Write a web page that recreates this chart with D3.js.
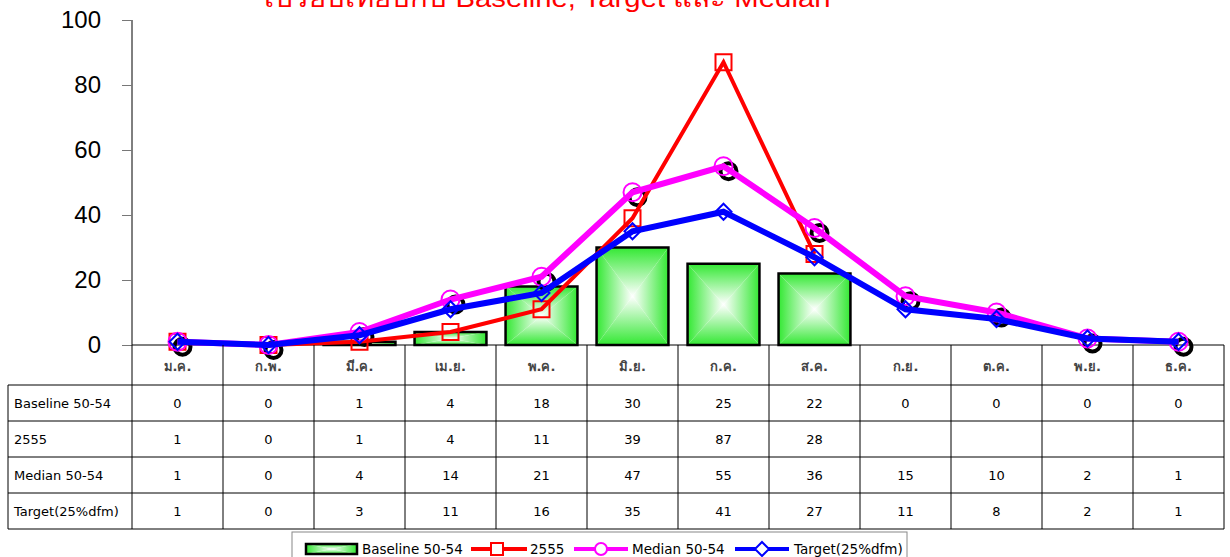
<!DOCTYPE html>
<html>
<head>
<meta charset="utf-8">
<script src="https://cdn.jsdelivr.net/npm/d3@7"></script>
<style>
  body { margin: 0; background: #fff; }
  svg text { font-family: Tahoma, "DejaVu Sans", "Noto Sans", sans-serif; }
</style>
</head>
<body>
<svg id="chart" width="1230" height="557"></svg>
<script>
const months = ['ม.ค.', 'ก.พ.', 'มี.ค.', 'เม.ย.', 'พ.ค.', 'มิ.ย.', 'ก.ค.', 'ส.ค.', 'ก.ย.', 'ต.ค.', 'พ.ย.', 'ธ.ค.'];
const baseline = [0, 0, 1, 4, 18, 30, 25, 22, 0, 0, 0, 0];
const cases2555 = [1, 0, 1, 4, 11, 39, 87, 28];
const median = [1, 0, 4, 14, 21, 47, 55, 36, 15, 10, 2, 1];
const target = [1, 0, 3, 11, 16, 35, 41, 27, 11, 8, 2, 1];
const yTicks = [0, 20, 40, 60, 80, 100];
const rowLabels = ['Baseline 50-54', '2555', 'Median 50-54', 'Target(25%dfm)'];
const title = 'เปรียบเทียบกับ Baseline, Target และ Median';

const svg = d3.select('#chart');
const plotLeft = 132, plotRight = 1224, plotTop = 20, plotBottom = 345;

const x = d3.scaleBand().domain(months).range([plotLeft, plotRight]).padding(0);
const y = d3.scaleLinear().domain([0, 100]).range([plotBottom, plotTop]);
const cx = (i) => x(months[i]) + x.bandwidth() / 2;

// gradients for the "rectangle" fill of the bars
const defs = svg.append('defs');
const green = '#33e833';
const grads = [
  ['gTop', 0, 0, 0, 1], ['gBottom', 0, 1, 0, 0],
  ['gLeft', 0, 0, 1, 0], ['gRight', 1, 0, 0, 0]
];
grads.forEach(g => {
  const lg = defs.append('linearGradient').attr('id', g[0])
    .attr('x1', g[1]).attr('y1', g[2]).attr('x2', g[3]).attr('y2', g[4]);
  lg.append('stop').attr('offset', 0).attr('stop-color', green);
  lg.append('stop').attr('offset', 1).attr('stop-color', '#ffffff');
});

function gradRect(g, x0, y0, x1, y1, sw) {
  const mx = (x0 + x1) / 2, my = (y0 + y1) / 2;
  g.append('path').attr('d', `M${x0},${y0}L${x1},${y0}L${mx},${my}Z`).attr('fill', 'url(#gTop)');
  g.append('path').attr('d', `M${x0},${y1}L${x1},${y1}L${mx},${my}Z`).attr('fill', 'url(#gBottom)');
  g.append('path').attr('d', `M${x0},${y0}L${x0},${y1}L${mx},${my}Z`).attr('fill', 'url(#gLeft)');
  g.append('path').attr('d', `M${x1},${y0}L${x1},${y1}L${mx},${my}Z`).attr('fill', 'url(#gRight)');
  g.append('rect').attr('x', x0).attr('y', y0).attr('width', x1 - x0).attr('height', y1 - y0)
    .attr('fill', 'none').attr('stroke', '#000').attr('stroke-width', sw);
}

// title (cut off at the top like the original)
svg.append('text')
  .attr('x', 547).attr('y', 7)
  .attr('text-anchor', 'middle')
  .attr('fill', '#ff0000')
  .attr('font-size', 26)
  .attr('textLength', 567)
  .attr('lengthAdjust', 'spacingAndGlyphs')
  .style('font-family', '"Liberation Sans", Tahoma, sans-serif')
  .text(title);

// y axis
const yAxis = svg.append('g')
  .attr('transform', `translate(${plotLeft},0)`)
  .call(d3.axisLeft(y).tickValues(yTicks).tickSize(10).tickPadding(21));
yAxis.select('.domain').attr('stroke', '#000').attr('d', `M0,${plotTop}V${plotBottom}`);
yAxis.selectAll('.tick line').attr('stroke', '#777');
yAxis.selectAll('.tick text')
  .attr('font-size', 24)
  .attr('fill', '#000')
  .style('font-family', '"Liberation Sans", Arial, sans-serif');

// bars
const barW = x.bandwidth() * 0.79;
baseline.forEach((v, i) => {
  if (v <= 0) return;
  gradRect(svg.append('g'), cx(i) - barW / 2, y(v), cx(i) + barW / 2, y(0), 2.5);
});

// x axis line
svg.append('line')
  .attr('x1', plotLeft).attr('x2', plotRight).attr('y1', plotBottom).attr('y2', plotBottom)
  .attr('stroke', '#000');

const line = d3.line().x((d, i) => cx(i)).y(d => y(d));

// shadow rings of the median markers
svg.selectAll('.shadow')
  .data(median).enter()
  .append('circle')
  .attr('cx', (d, i) => cx(i) + 5)
  .attr('cy', d => y(d) + 5)
  .attr('r', 8)
  .attr('fill', 'none')
  .attr('stroke', '#000')
  .attr('stroke-width', 4);

// 2555 series
svg.append('path').datum(cases2555)
  .attr('d', line).attr('fill', 'none')
  .attr('stroke', '#ff0000').attr('stroke-width', 4);
svg.selectAll('.sq')
  .data(cases2555).enter()
  .append('rect')
  .attr('x', (d, i) => cx(i) - 8).attr('y', d => y(d) - 8)
  .attr('width', 16).attr('height', 16)
  .attr('fill', 'none').attr('stroke', '#ff0000').attr('stroke-width', 2);

// median series
svg.append('path').datum(median)
  .attr('d', line).attr('fill', 'none')
  .attr('stroke', '#ff00ff').attr('stroke-width', 6);
svg.selectAll('.ci')
  .data(median).enter()
  .append('circle')
  .attr('cx', (d, i) => cx(i)).attr('cy', d => y(d))
  .attr('r', 9)
  .attr('fill', 'none').attr('stroke', '#ff00ff').attr('stroke-width', 2);

// target series
svg.append('path').datum(target)
  .attr('d', line).attr('fill', 'none')
  .attr('stroke', '#0000ff').attr('stroke-width', 6);
svg.selectAll('.di')
  .data(target).enter()
  .append('path')
  .attr('d', (d, i) => {
    const px = cx(i), py = y(d);
    return `M${px},${py - 8}L${px + 8},${py}L${px},${py + 8}L${px - 8},${py}Z`;
  })
  .attr('fill', 'none').attr('stroke', '#0000ff').attr('stroke-width', 2);

// data table
const rowTop = 385, rowH = 36, tableLeft = 8;
const rows = [baseline, cases2555, median, target];
const table = svg.append('g').attr('stroke', '#000').attr('stroke-width', 1);

d3.range(months.length + 1).forEach(i => {
  const xx = plotLeft + i * x.bandwidth();
  table.append('line').attr('x1', xx).attr('x2', xx)
    .attr('y1', plotBottom).attr('y2', rowTop + rowH * rows.length);
});
table.append('line').attr('x1', tableLeft).attr('x2', tableLeft)
  .attr('y1', rowTop).attr('y2', rowTop + rowH * rows.length);
d3.range(rows.length + 1).forEach(r => {
  const yy = rowTop + r * rowH;
  table.append('line').attr('x1', tableLeft).attr('x2', plotRight)
    .attr('y1', yy).attr('y2', yy);
});

// month labels
svg.selectAll('.mlab')
  .data(months).enter()
  .append('text')
  .attr('x', (d, i) => cx(i)).attr('y', 371)
  .attr('text-anchor', 'middle')
  .attr('font-size', 13).attr('font-weight', 'bold').attr('fill', '#444')
  .text(d => d);

rows.forEach((vals, r) => {
  const yy = rowTop + r * rowH + rowH / 2 + 5;
  svg.append('text')
    .attr('x', 14).attr('y', yy)
    .attr('font-size', 13).attr('fill', '#000')
    .text(rowLabels[r]);
  vals.forEach((v, i) => {
    svg.append('text')
      .attr('x', cx(i)).attr('y', yy)
      .attr('text-anchor', 'middle')
      .attr('font-size', 13).attr('fill', '#000')
      .text(v);
  });
});

// legend
const lg = svg.append('g');
lg.append('rect').attr('x', 292).attr('y', 532).attr('width', 615).attr('height', 30)
  .attr('fill', '#fff').attr('stroke', '#888');
const ly = 549;
const lfs = 13.5;

gradRect(lg, 306, ly - 5, 357, ly + 5, 2.5);
lg.append('text').attr('x', 362).attr('y', ly + 5).attr('font-size', lfs).text(rowLabels[0]);

lg.append('line').attr('x1', 471).attr('x2', 527).attr('y1', ly).attr('y2', ly)
  .attr('stroke', '#ff0000').attr('stroke-width', 4);
lg.append('rect').attr('x', 491).attr('y', ly - 6).attr('width', 12).attr('height', 12)
  .attr('fill', '#fff').attr('stroke', '#ff0000').attr('stroke-width', 2);
lg.append('text').attr('x', 530).attr('y', ly + 5).attr('font-size', lfs).text(rowLabels[1]);

lg.append('line').attr('x1', 574).attr('x2', 628).attr('y1', ly).attr('y2', ly)
  .attr('stroke', '#ff00ff').attr('stroke-width', 4);
lg.append('circle').attr('cx', 601).attr('cy', ly).attr('r', 6)
  .attr('fill', '#fff').attr('stroke', '#ff00ff').attr('stroke-width', 2);
lg.append('text').attr('x', 632).attr('y', ly + 5).attr('font-size', lfs).text(rowLabels[2]);

lg.append('line').attr('x1', 735).attr('x2', 789).attr('y1', ly).attr('y2', ly)
  .attr('stroke', '#0000ff').attr('stroke-width', 4);
lg.append('path').attr('d', `M762,${ly - 7}L769,${ly}L762,${ly + 7}L755,${ly}Z`)
  .attr('fill', '#fff').attr('stroke', '#0000ff').attr('stroke-width', 2);
lg.append('text').attr('x', 794).attr('y', ly + 5).attr('font-size', lfs).text(rowLabels[3]);
</script>
</body>
</html>
